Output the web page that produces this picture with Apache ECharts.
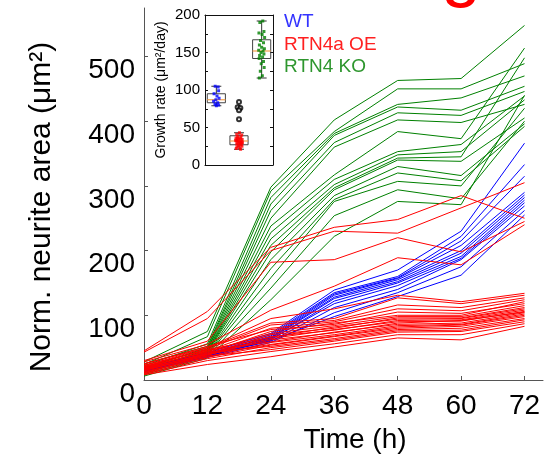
<!DOCTYPE html>
<html><head><meta charset="utf-8">
<script src="https://cdn.jsdelivr.net/npm/echarts@6/dist/echarts.min.js"></script>
<style>html,body{margin:0;padding:0;background:#fff}#c{width:551px;height:469px}</style>
</head><body><div id="c"></div>
<script>
// ---- data ----
const timePoints = [0, 12, 24, 36, 48, 60, 72];
const xTickValues = [0, 12, 24, 36, 48, 60, 72];
const yTickValues = [0, 100, 200, 300, 400, 500];

const wtLines = [
  [18, 42, 72, 139, 170, 230, 366],
  [17, 40, 70, 135, 160, 222, 333],
  [16, 38, 68, 133, 158, 215, 315],
  [15, 40, 66, 131, 157, 208, 290],
  [18, 41, 65, 128, 155, 200, 286],
  [14, 37, 64, 126, 152, 196, 282],
  [16, 39, 62, 122, 150, 191, 278],
  [15, 36, 63, 118, 146, 188, 274],
  [17, 38, 60, 112, 140, 186, 269],
  [13, 35, 58, 104, 135, 175, 262],
  [15, 37, 61, 98, 129, 162, 255]
];

const oeLines = [
  [45, 106, 205, 236, 248, 285, 250],
  [43, 95, 200, 230, 227, 266, 305],
  [30, 60, 182, 186, 220, 198, 245],
  [28, 55, 108, 145, 189, 178, 240],
  [25, 50, 95, 110, 131, 121, 134],
  [22, 50, 88, 95, 127, 118, 131],
  [20, 48, 85, 92, 116, 112, 127],
  [18, 45, 80, 90, 110, 107, 124],
  [25, 52, 78, 86, 105, 103, 118],
  [16, 42, 75, 88, 100, 100, 121],
  [19, 44, 72, 84, 98, 98, 115],
  [14, 40, 70, 80, 96, 96, 112],
  [21, 47, 66, 82, 94, 95, 110],
  [12, 38, 67, 77, 92, 93, 108],
  [17, 41, 64, 78, 90, 91, 106],
  [15, 39, 62, 73, 88, 92, 105],
  [23, 46, 59, 74, 86, 88, 104],
  [11, 36, 58, 70, 84, 86, 102],
  [18, 40, 55, 68, 82, 85, 100],
  [13, 35, 54, 67, 80, 83, 98],
  [20, 43, 52, 64, 78, 80, 95],
  [10, 33, 50, 62, 76, 77, 93],
  [16, 37, 47, 60, 74, 75, 90],
  [9, 30, 44, 56, 70, 70, 87],
  [8, 24, 36, 51, 65, 62, 83]
];

const koLines = [
  [28, 75, 298, 402, 463, 466, 548],
  [24, 67, 292, 384, 450, 450, 489],
  [22, 56, 282, 381, 426, 436, 470],
  [25, 52, 272, 378, 422, 417, 454],
  [18, 50, 262, 367, 413, 409, 446],
  [20, 48, 250, 360, 402, 398, 426],
  [15, 47, 238, 317, 384, 373, 513],
  [17, 45, 228, 310, 353, 364, 439],
  [14, 44, 218, 302, 348, 353, 433],
  [19, 43, 208, 297, 343, 345, 498],
  [12, 42, 198, 294, 340, 338, 405],
  [16, 40, 186, 285, 330, 316, 396],
  [10, 39, 172, 279, 320, 308, 392],
  [13, 38, 158, 276, 307, 300, 420],
  [8, 36, 142, 254, 294, 280, 400],
  [6, 34, 124, 222, 276, 271, 440]
];

// inset: growth rate (um^2/day)
const groupNames = ['WT', 'RTN4a OE', 'RTN4 KO'];
const wtBox = [79, 83, 87, 95, 105];   // min, q1, median, q3, max
const oeBox = [21, 27, 32, 39, 43];
const koBox = [116, 142, 152, 167, 192];
const oeOutliers = [84, 77, 76, 73, 61];
const wtRates = [105, 104, 99, 95, 92, 89, 87, 85, 83, 81, 80, 79];
const wtJitter = [-0.05, 0.08, 0.1, -0.1, 0.03, 0.12, -0.02, -0.12, 0.06, -0.06, 0.1, 0.0];
const oeRates = [43, 41, 40, 38, 37, 36, 35, 34, 34, 33, 32, 32, 31, 30, 30, 29, 28, 28, 27, 26, 25, 24, 23, 22, 21, 30, 33, 36];
const oeJitter = [0.02, -0.1, 0.12, -0.05, 0.08, -0.13, 0.05, -0.02, 0.14, -0.08, 0.1, -0.12, 0.0, 0.06, -0.06, 0.12, -0.1, 0.03, 0.09, -0.03, 0.13, -0.09, 0.04, -0.12, 0.07, 0.15, -0.15, -0.07];
const oeOutlierJitter = [0, -0.06, 0.06, 0, 0];
const koRates = [192, 190, 178, 176, 174, 170, 166, 163, 160, 157, 155, 153, 152, 150, 148, 146, 144, 142, 138, 135, 130, 125, 119, 116];
const koJitter = [0.05, -0.08, 0.1, -0.12, 0.02, 0.13, -0.05, 0.08, -0.1, 0.0, 0.12, -0.13, 0.06, -0.03, 0.1, -0.09, 0.04, -0.11, 0.08, -0.02, 0.11, -0.06, 0.03, -0.1];

// ---- styles ----
const FONT = 'Liberation Sans, Arial, Helvetica, sans-serif';
const BLUE = '#0000ff', RED = '#ff0000', GREEN = '#008000';
const AX = '#555555';

const series = [];
function addLines(rows, color) {
  rows.forEach(r => {
    series.push({
      type: 'line', xAxisIndex: 0, yAxisIndex: 0,
      data: timePoints.map((t, i) => [t, r[i]]),
      symbol: 'none', silent: true, animation: false,
      lineStyle: { color: color, width: 1 }
    });
  });
}
addLines(koLines, GREEN);
addLines(wtLines, BLUE);
addLines(oeLines, RED);

const boxData = [[1].concat(wtBox), [2].concat(oeBox), [3].concat(koBox)];
series.push({
  type: 'custom', xAxisIndex: 1, yAxisIndex: 1, silent: true, animation: false, z: 5,
  data: boxData,
  renderItem: function (params, api) {
    const x = api.value(0);
    const mn = api.value(1), q1 = api.value(2), md = api.value(3), q3 = api.value(4), mx = api.value(5);
    const hw = api.size([0.4, 0])[0];
    const cw = api.size([0.22, 0])[0];
    const pMin = api.coord([x, mn]), pQ1 = api.coord([x, q1]), pMd = api.coord([x, md]);
    const pQ3 = api.coord([x, q3]), pMax = api.coord([x, mx]);
    const ls = { stroke: '#333', lineWidth: 1, fill: null };
    return { type: 'group', children: [
      { type: 'line', shape: { x1: pMax[0], y1: pMax[1], x2: pQ3[0], y2: pQ3[1] }, style: ls },
      { type: 'line', shape: { x1: pMin[0], y1: pMin[1], x2: pQ1[0], y2: pQ1[1] }, style: ls },
      { type: 'line', shape: { x1: pMax[0] - cw, y1: pMax[1], x2: pMax[0] + cw, y2: pMax[1] }, style: ls },
      { type: 'line', shape: { x1: pMin[0] - cw, y1: pMin[1], x2: pMin[0] + cw, y2: pMin[1] }, style: ls },
      { type: 'rect', shape: { x: pQ3[0] - hw, y: pQ3[1], width: 2 * hw, height: pQ1[1] - pQ3[1] }, style: { stroke: '#444', fill: 'none', lineWidth: 1 } },
      { type: 'line', shape: { x1: pMd[0] - hw, y1: pMd[1], x2: pMd[0] + hw, y2: pMd[1] }, style: { stroke: '#f5a04a', lineWidth: 1.2 } }
    ]};
  }
});
function addPts(vals, jit, cx, color) {
  series.push({
    type: 'scatter', xAxisIndex: 1, yAxisIndex: 1, silent: true, animation: false, z: 6,
    data: vals.map((v, i) => [cx + jit[i], v]),
    symbol: 'rect', symbolSize: 3, itemStyle: { color: color }
  });
}
addPts(wtRates, wtJitter, 1, BLUE);
addPts(oeRates, oeJitter, 2, RED);
addPts(koRates, koJitter, 3, GREEN);
series.push({
  type: 'scatter', xAxisIndex: 1, yAxisIndex: 1, silent: true, animation: false, z: 6,
  data: oeOutliers.map((v, i) => [2 + oeOutlierJitter[i], v]),
  symbol: 'emptyCircle', symbolSize: 4, itemStyle: { color: '#000', borderColor: '#000', borderWidth: 0.8 }
});

const chart = echarts.init(document.getElementById('c'), null, { renderer: 'canvas' });
chart.setOption({
  backgroundColor: '#fff',
  animation: false,
  grid: [
    { left: 144, top: 8, right: 8, bottom: 89 },
    { left: 205, top: 15, width: 68, height: 150 }
  ],
  xAxis: [
    { type: 'value', gridIndex: 0, min: 0, max: 75.5, interval: 12,
      axisLine: { show: true, lineStyle: { color: AX, width: 1 } },
      axisTick: { show: true, inside: true, length: 4, lineStyle: { color: AX }, customValues: xTickValues },
      axisLabel: { show: true, customValues: xTickValues, color: '#000', fontSize: 28, fontFamily: FONT, margin: 12 },
      splitLine: { show: false } },
    { type: 'value', gridIndex: 1, min: 0.5, max: 3.5, position: 'bottom',
      axisLine: { show: true, onZero: false, lineStyle: { color: '#111' } },
      axisTick: { show: false }, axisLabel: { show: false }, splitLine: { show: false } },
    { type: 'value', gridIndex: 1, min: 0.5, max: 3.5, position: 'top',
      axisLine: { show: true, onZero: false, lineStyle: { color: '#111' } },
      axisTick: { show: false }, axisLabel: { show: false }, splitLine: { show: false } }
  ],
  yAxis: [
    { type: 'value', gridIndex: 0, min: 0, max: 575, interval: 100,
      axisLine: { show: true, lineStyle: { color: AX, width: 1 } },
      axisTick: { show: true, inside: true, length: 4, lineStyle: { color: AX }, customValues: yTickValues },
      axisLabel: { show: true, customValues: yTickValues, color: '#000', fontSize: 28, fontFamily: FONT, margin: 9, verticalAlign: 'top' },
      splitLine: { show: false } },
    { type: 'value', gridIndex: 1, min: 0, max: 200, interval: 25, position: 'left',
      axisLine: { show: true, onZero: false, lineStyle: { color: '#111' } },
      axisTick: { show: true, inside: true, length: 3, lineStyle: { color: '#111' } },
      axisLabel: { show: true, customValues: [0, 50, 100, 150, 200], color: '#000', fontSize: 15, fontFamily: FONT, margin: 5 },
      splitLine: { show: false } },
    { type: 'value', gridIndex: 1, min: 0, max: 200, interval: 25, position: 'right',
      axisLine: { show: true, onZero: false, lineStyle: { color: '#111' } },
      axisTick: { show: true, inside: true, length: 3, lineStyle: { color: '#111' } },
      axisLabel: { show: false }, splitLine: { show: false } }
  ],
  series: series,
  graphic: [
    { type: 'text', x: 42, y: 207, rotation: Math.PI / 2, style: { text: 'Norm. neurite area (μm²)', fill: '#000', font: '30px ' + FONT, textAlign: 'center', textVerticalAlign: 'middle' } },
    { type: 'text', x: 355, y: 440, style: { text: 'Time (h)', fill: '#000', font: '28px ' + FONT, textAlign: 'center', textVerticalAlign: 'middle' } },
    { type: 'text', x: 161, y: 90, rotation: Math.PI / 2, style: { text: 'Growth rate (μm²/day)', fill: '#000', font: '14px ' + FONT, textAlign: 'center', textVerticalAlign: 'middle' } },
    { type: 'text', x: 284, y: 22, style: { text: groupNames[0], fill: '#3333ff', font: '19px ' + FONT, textAlign: 'left', textVerticalAlign: 'middle' } },
    { type: 'text', x: 284, y: 45, style: { text: groupNames[1], fill: '#ff2020', font: '19px ' + FONT, textAlign: 'left', textVerticalAlign: 'middle' } },
    { type: 'text', x: 284, y: 67, style: { text: groupNames[2], fill: '#2e962e', font: '19px ' + FONT, textAlign: 'left', textVerticalAlign: 'middle' } },
    { type: 'text', x: 441, y: -27, style: { text: 'g', fill: '#ff0000', font: '72px ' + FONT, textAlign: 'left', textVerticalAlign: 'middle' } }
  ]
});
</script></body></html>
